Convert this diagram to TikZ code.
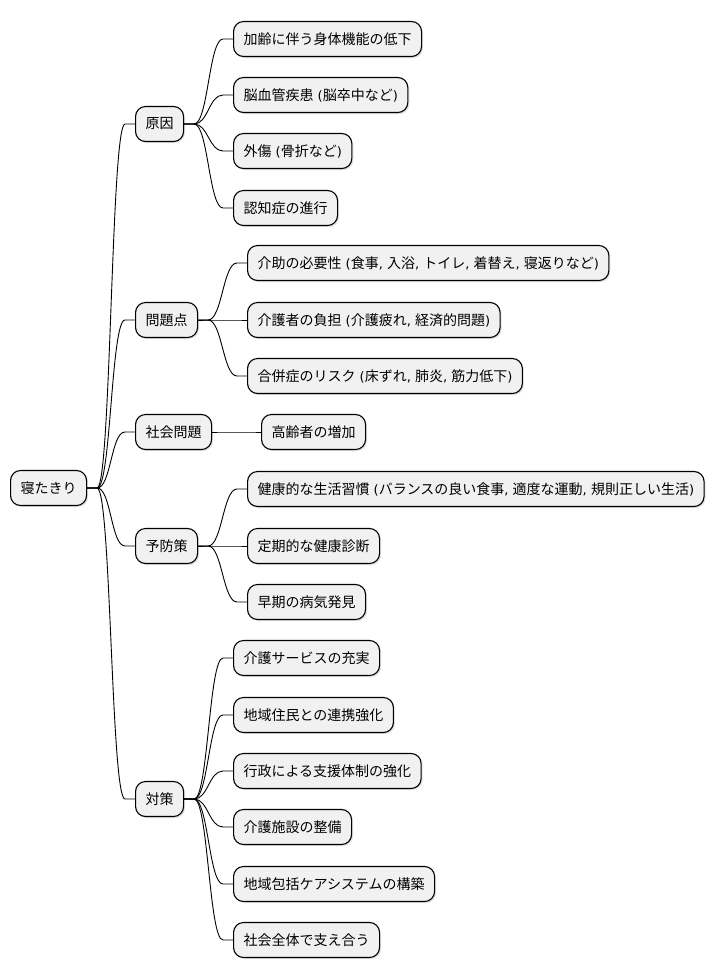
\documentclass[tikz,border=0pt]{standalone}
\usepackage{fontspec}
\setmainfont{Noto Sans CJK JP}
\newfontfamily\lat{DejaVu Sans}
\newcommand\lt[1]{{\lat\fontsize{13}{16}\selectfont #1}}
\usetikzlibrary{shadows}
\tikzset{
  mm/.style={draw=black, line width=1.1pt, fill=nodefill, rounded corners=10pt,
    minimum height=35pt, inner xsep=10pt, inner ysep=0pt, anchor=west,
    font=\fontsize{14}{16}\selectfont,
    drop shadow={shadow xshift=1.5pt, shadow yshift=-1.5pt, opacity=0.12, fill=black}},
  link/.style={draw=black, line width=0.9pt}
}
\definecolor{nodefill}{HTML}{F1F1F1}
\newcommand\mmconn[2]{\draw[link] (#1.east) -- ++(10pt,0) .. controls +(14pt,0) and +(-14pt,0) .. ([xshift=-10pt]#2.west) -- (#2.west);}
\begin{document}
\begin{tikzpicture}[x=1pt,y=-1pt]
\useasboundingbox (0,0) rectangle (718,978);
% root
\node[mm] (root) at (10,488) {寝たきり};
% level 1
\node[mm] (gen) at (135,124) {原因};
\node[mm] (mon) at (135,320) {問題点};
\node[mm] (sha) at (135,432) {社会問題};
\node[mm] (yob) at (135,546) {予防策};
\node[mm] (tai) at (135,799) {対策};
% 原因
\node[mm] (g1) at (233,39) {加齢に伴う身体機能の低下};
\node[mm] (g2) at (233,95) {脳血管疾患\lt{ (}脳卒中など\lt{)}};
\node[mm] (g3) at (233,151) {外傷\lt{ (}骨折など\lt{)}};
\node[mm] (g4) at (233,208) {認知症の進行};
% 問題点
\node[mm] (m1) at (247,263) {介助の必要性\lt{ (}食事\lt{, }入浴\lt{, }トイレ\lt{, }着替え\lt{, }寝返りなど\lt{)}};
\node[mm] (m2) at (247,320) {介護者の負担\lt{ (}介護疲れ\lt{, }経済的問題\lt{)}};
\node[mm] (m3) at (247,376) {合併症のリスク\lt{ (}床ずれ\lt{, }肺炎\lt{, }筋力低下\lt{)}};
% 社会問題
\node[mm] (s1) at (261,432) {高齢者の増加};
% 予防策
\node[mm] (y1) at (247,489) {健康的な生活習慣\lt{ (}バランスの良い食事\lt{, }適度な運動\lt{, }規則正しい生活\lt{)}};
\node[mm] (y2) at (247,546) {定期的な健康診断};
\node[mm] (y3) at (247,602) {早期の病気発見};
% 対策
\node[mm] (t1) at (233,658) {介護サービスの充実};
\node[mm] (t2) at (233,715) {地域住民との連携強化};
\node[mm] (t3) at (233,771) {行政による支援体制の強化};
\node[mm] (t4) at (233,827) {介護施設の整備};
\node[mm] (t5) at (233,884) {地域包括ケアシステムの構築};
\node[mm] (t6) at (233,940) {社会全体で支え合う};
% connectors
\mmconn{root}{gen}
\mmconn{root}{mon}
\mmconn{root}{sha}
\mmconn{root}{yob}
\mmconn{root}{tai}
\mmconn{gen}{g1}
\mmconn{gen}{g2}
\mmconn{gen}{g3}
\mmconn{gen}{g4}
\mmconn{mon}{m1}
\mmconn{mon}{m2}
\mmconn{mon}{m3}
\mmconn{sha}{s1}
\mmconn{yob}{y1}
\mmconn{yob}{y2}
\mmconn{yob}{y3}
\mmconn{tai}{t1}
\mmconn{tai}{t2}
\mmconn{tai}{t3}
\mmconn{tai}{t4}
\mmconn{tai}{t5}
\mmconn{tai}{t6}
\end{tikzpicture}
\end{document}
